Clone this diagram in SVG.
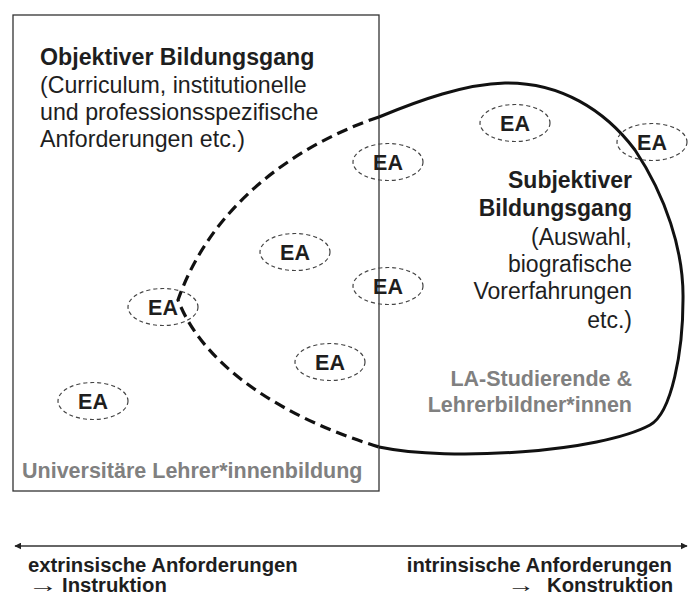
<svg xmlns="http://www.w3.org/2000/svg" width="688" height="599" viewBox="0 0 688 599">
<defs>
<style>
text{font-family:"Liberation Sans",Arial,sans-serif;fill:#1e1e1e}
.b{font-weight:bold}
.t{font-size:23.2px}
.r{font-size:23px}
.gray{fill:#808080;font-weight:bold;font-size:21.5px}
.ea ellipse{fill:none;stroke:#444;stroke-width:1.2;stroke-dasharray:4 3}
.ea text{font-size:21.5px;font-weight:bold;text-anchor:middle}
.bot{font-size:20.3px;font-weight:bold}
.arr{font-weight:normal;font-size:20px}
</style>
<marker id="ah" viewBox="0 0 10 10" refX="9" refY="5" markerWidth="7" markerHeight="7" markerUnits="userSpaceOnUse" orient="auto-start-reverse">
<path d="M0,0 L10,5 L0,10 z" fill="#222"/>
</marker>
</defs>
<rect width="688" height="599" fill="#fff"/>

<g id="university">
<rect x="13" y="15" width="366" height="476" fill="none" stroke="#333" stroke-width="1.3"/>
<text class="gray" x="22" y="478">Universitäre Lehrer*innenbildung</text>
</g>

<g id="objective">
<text x="40" class="t"><tspan x="40" y="65" class="b">Objektiver Bildungsgang</tspan><tspan x="40" y="93">(Curriculum, institutionelle</tspan><tspan x="40" y="120">und professionsspezifische</tspan><tspan x="40" y="147">Anforderungen etc.)</tspan></text>
</g>

<g id="connectors">
<path id="subjective-solid" d="M379,117 C420,100 465,84 505,83 C560,82 605,110 635,150 C665,195 684,250 683,300 C683,350 672,413 650,425 C600,452 450,462 379,447" fill="none" stroke="#111" stroke-width="3"/>
<path id="subjective-dashed" d="M379,117 C310,140 215,195 178,300 C205,370 290,420 379,447" fill="none" stroke="#111" stroke-width="3.2" stroke-dasharray="11 6"/>
<line id="axis" x1="15" y1="546" x2="687" y2="546" stroke="#333" stroke-width="1.5" marker-start="url(#ah)" marker-end="url(#ah)"/>
</g>

<g id="subjective">
<text class="r" text-anchor="end"><tspan x="632" y="188" class="b">Subjektiver</tspan><tspan x="632" y="216" class="b">Bildungsgang</tspan><tspan x="632" y="245">(Auswahl,</tspan><tspan x="632" y="272">biografische</tspan><tspan x="632" y="299">Vorerfahrungen</tspan><tspan x="632" y="328">etc.)</tspan></text>
<text class="gray" text-anchor="end"><tspan x="632" y="386">LA-Studierende &amp;</tspan><tspan x="632" y="412">Lehrerbildner*innen</tspan></text>
</g>

<g id="ea1" class="ea"><ellipse cx="515" cy="123" rx="35" ry="18.5"/><text x="515" y="131">EA</text></g>
<g id="ea2" class="ea"><ellipse cx="652" cy="142" rx="35" ry="18.5"/><text x="652" y="150">EA</text></g>
<g id="ea3" class="ea"><ellipse cx="388" cy="162" rx="35" ry="18.5"/><text x="388" y="170">EA</text></g>
<g id="ea4" class="ea"><ellipse cx="295" cy="252" rx="35" ry="18.5"/><text x="295" y="260">EA</text></g>
<g id="ea5" class="ea"><ellipse cx="388" cy="286" rx="35" ry="18.5"/><text x="388" y="294">EA</text></g>
<g id="ea6" class="ea"><ellipse cx="163" cy="307" rx="35" ry="18.5"/><text x="163" y="315">EA</text></g>
<g id="ea7" class="ea"><ellipse cx="330" cy="362" rx="35" ry="18.5"/><text x="330" y="370">EA</text></g>
<g id="ea8" class="ea"><ellipse cx="93" cy="401" rx="35" ry="18.5"/><text x="93" y="409">EA</text></g>

<g id="left-pole">
<text class="bot" x="28" y="572">extrinsische Anforderungen</text>
<text class="bot arr" x="28" y="592" textLength="30" lengthAdjust="spacingAndGlyphs">→</text>
<text class="bot" x="62" y="592">Instruktion</text>
</g>
<g id="right-pole">
<text class="bot" x="672" y="572" text-anchor="end">intrinsische Anforderungen</text>
<text class="bot arr" x="507" y="592" textLength="28" lengthAdjust="spacingAndGlyphs">→</text>
<text class="bot" x="547" y="592">Konstruktion</text>
</g>
</svg>
